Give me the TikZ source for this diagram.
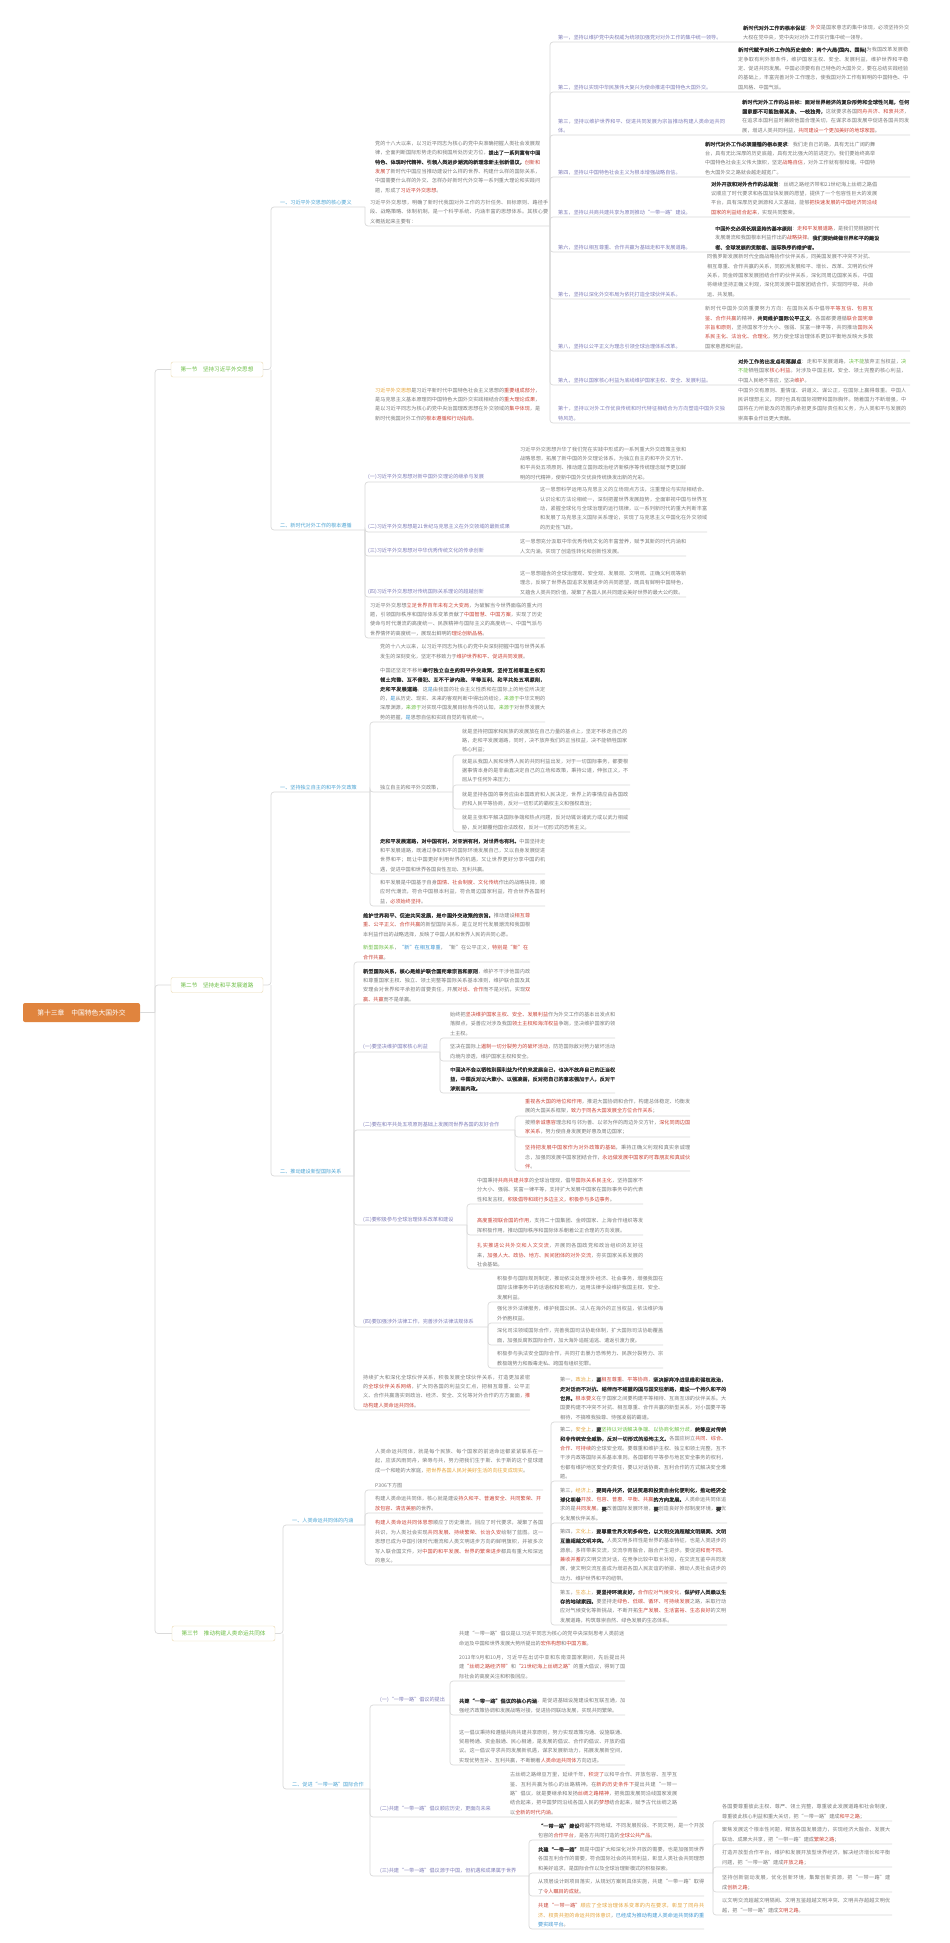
\documentclass[tikz,border=0pt]{standalone}
\usepackage{fontspec}
\setmainfont{Noto Sans CJK SC}[AutoFakeBold=1.5]
\XeTeXlinebreaklocale "zh"
\XeTeXlinebreakskip=0pt plus 1pt
\definecolor{tg}{HTML}{7A7A7A}
\definecolor{pu}{HTML}{7F7DB8}
\definecolor{sb}{HTML}{4BA3D3}
\definecolor{lg}{HTML}{DADADA}
\definecolor{cr}{HTML}{C9463A}
\definecolor{co}{HTML}{E3A33B}
\definecolor{cg}{HTML}{6DBE45}
\definecolor{cb}{HTML}{3E95D1}
\definecolor{rootc}{HTML}{E0843E}
\definecolor{tan}{HTML}{EAD8AE}
\definecolor{dk}{HTML}{3A3A3A}
\newcommand\rd[1]{\textcolor{cr}{#1}}
\newcommand\og[1]{\textcolor{co}{#1}}
\newcommand\gn[1]{\textcolor{cg}{#1}}
\newcommand\bl[1]{\textcolor{cb}{#1}}
\newcommand\bd[1]{\textcolor{dk}{\textbf{#1}}}
\newcommand\fs{\fontsize{5.1}{9.4}\selectfont}
\tikzset{
 tx/.style={anchor=south west,inner sep=0pt,text width=#1pt,align=justify,font=\fs,text=tg},
 lb/.style={anchor=south west,inner sep=0pt,font=\fs,text=pu},
 lbw/.style={anchor=south west,inner sep=0pt,font=\fs,text=pu,text width=#1pt,align=left},
 sub/.style={anchor=south west,inner sep=0pt,font=\fs,text=sb},
 ln/.style={draw=lg,line width=0.7pt,rounded corners=3pt},
 sec/.style={draw=tan,fill=white,rounded corners=2pt,minimum width=92pt,minimum height=15pt,inner sep=1pt,text=cg,font=\fontsize{5.6}{6}\selectfont},
 root/.style={fill=rootc,rounded corners=2pt,minimum width=117pt,minimum height=19pt,text=white,font=\fontsize{6.8}{7}\selectfont}
}
\begin{document}
\begin{tikzpicture}[x=1pt,y=-1pt]
\useasboundingbox[fill=white] (0,0) rectangle (950,1943);
% root and sections
\node[root] (root) at (81.5,1012.5) {第十三章\quad 中国特色大国外交};
\node[sec] (s1) at (217,369.5) {第一节\quad 坚持习近平外交思想};
\node[sec] (s2) at (217,985) {第二节\quad 坚持走和平发展道路};
\node[sec,minimum width=103pt] (s3) at (223.5,1633.5) {第三节\quad 推动构建人类命运共同体};
\coordinate (tr) at (155,1012.5);
\draw[ln] (root.east) -- (tr);
\draw[ln] (tr) |- (s1.west);
\draw[ln] (tr) |- (s2.west);
\draw[ln] (tr) |- (s3.west);

% ================= Section 1
\draw[ln] (s1.east) -- (271,369.5) |- (365,207);
\draw[ln] (271,369.5) |- (365,530);
\node[sub] (a1) at (280,205) {一、习近平外交思想的核心要义};
\node[tx=165] (tA) at (375,193) {党的十八大以来，以习近平同志为核心的党中央准确把握人类社会发展规律，全面判断国际形势走向和我国所处历史方位，\bd{提出了一系列富有中国特色、体现时代精神、引领人类进步潮流的新理念新主张新倡议，}\rd{创新和发展了}新时代中国应当推动建设什么样的世界、构建什么样的国际关系，中国需要什么样的外交、怎样办好新时代外交等一系列重大理论和实践问题，形成了\rd{习近平外交思想}。};
\draw[ln] (365,207) |- (550,226);
\node[tx=178] (tB) at (370,224) {习近平外交思想，明确了新时代我国对外工作的方针任务、目标原则、路径手段、战略策略、体制机制，是一个科学系统、内涵丰富的思想体系。其核心要义概括起来主要有：};
% ten items
\foreach \r in {42,92,135,177,217,252,299,351,385,423}{\draw[ln] (550,226) |- (910,\r);}
\node[lbw=168] (i1) at (558,40) {第一，坚持以维护党中央权威为统领加强党对对外工作的集中统一领导。};
\node[tx=166] (r1) at (743,40) {\bd{新时代对外工作的根本保证}：\rd{外交}是国家意志的集中体现，必须坚持外交大权在党中央，党中央对对外工作实行集中统一领导。};
\node[lbw=168] (i2) at (558,90) {第二，坚持以实现中华民族伟大复兴为使命推进中国特色大国外交。};
\node[tx=170] (r2) at (738,90) {\bd{新时代赋予对外工作的历史使命：两个大局(国内、国际)}为我国改革发展稳定争取有利外部条件，维护国家主权、安全、发展利益，维护世界和平稳定、促进共同发展。中国必须要有自己特色的大国外交，要在总结实践经验的基础上，丰富完善对外工作理念，使我国对外工作有鲜明的中国特色、中国风格、中国气派。};
\node[lbw=168] (i3) at (558,133) {第三，坚持以维护世界和平、促进共同发展为宗旨推动构建人类命运共同体。};
\node[tx=167] (r3) at (742,133) {\bd{新时代对外工作的总目标：面对世界经济的复杂形势和全球性问题，任何国家都不可能独善其身、一枝独秀，}这就要求各国\rd{同舟共济、和衷共济}，在追求本国利益时兼顾他国合理关切，在谋求本国发展中促进各国共同发展，增进人类共同利益，\rd{共同建设一个更加美好的地球家园}。};
\node[lbw=168] (i4) at (558,175) {第四，坚持以中国特色社会主义为根本增强战略自信。};
\node[tx=170] (r4) at (705,175) {\bd{新时代对外工作必须遵循的根本要求}：我们走自己的路，具有无比广阔的舞台，具有无比深厚的历史底蕴，具有无比强大的前进定力。我们要始终高举中国特色社会主义伟大旗帜，坚定\rd{战略自信}，对外工作就有根和魂，中国特色大国外交之路就会越走越宽广。};
\node[lbw=168] (i5) at (558,215) {第五，坚持以共商共建共享为原则推动“一带一路”建设。};
\node[tx=166] (r5) at (711,215) {\bd{对外开放和对外合作的总规划}：丝绸之路经济带和21世纪海上丝绸之路倡议顺应了时代要求和各国加快发展的愿望，提供了一个包容性巨大的发展平台，具有深厚历史渊源和人文基础，能够\rd{把快速发展的中国经济同沿线国家的利益结合起来}，实现共同繁荣。};
\node[lbw=168] (i6) at (558,250) {第六，坚持以相互尊重、合作共赢为基础走和平发展道路。};
\node[tx=164] (r6) at (715,250) {\bd{中国外交必须长期坚持的基本原则}：\rd{走和平发展道路}，是我们党根据时代发展潮流和我国根本利益作出的\rd{战略抉择}。\bd{我们要始终做世界和平的建设者、全球发展的贡献者、国际秩序的维护者。}};
\node[lbw=168] (i7) at (558,297) {第七，坚持以深化外交布局为依托打造全球伙伴关系。};
\node[tx=166] (r7) at (707,297) {同俄罗斯发展新时代全面战略协作伙伴关系，同美国发展不冲突不对抗、相互尊重、合作共赢的关系，同欧洲发展和平、增长、改革、文明的伙伴关系，同金砖国家发展团结合作的伙伴关系，深化同周边国家关系，中国将继续坚持正确义利观，深化同发展中国家团结合作，实现同呼吸、共命运、共发展。};
\node[lbw=168] (i8) at (558,349) {第八，坚持以公平正义为理念引领全球治理体系改革。};
\node[tx=168] (r8) at (705,349) {新时代中国外交的重要努力方向：在国际关系中倡导\rd{平等互信、包容互鉴、合作共赢}的精神，\bd{共同维护国际公平正义}。各国都要遵循\rd{联合国宪章宗旨和原则}，坚持国家不分大小、强弱、贫富一律平等，共同推动\rd{国际关系民主化、法治化、合理化}，努力使全球治理体系更加平衡地反映大多数国家意愿和利益。};
\node[lbw=168] (i9) at (558,383) {第九，坚持以国家核心利益为底线维护国家主权、安全、发展利益。};
\node[tx=168] (r9) at (738,383) {\bd{对外工作的出发点和落脚点}：走和平发展道路，\gn{决不能}放弃正当权益，\gn{决不能}牺牲国家\rd{核心利益}。对涉及中国主权、安全、领土完整的核心利益，中国人民绝不答应，坚决\rd{维护}。};
\node[lbw=168] (i10) at (558,421) {第十，坚持以对外工作优良传统和时代特征相结合为方向塑造中国外交独特风范。};
\node[tx=168] (r10) at (738,421) {中国外交有原则、重情谊、讲道义、谋公正，在国际上赢得尊重。中国人民讲理想主义，同时也具有国际视野和国际胸怀。随着国力不断增强，中国将在力所能及的范围内承担更多国际责任和义务，为人类和平与发展的崇高事业作出更大贡献。};

% S1 sub2
\node[sub] (a2) at (280,528) {二、新时代对外工作的根本遵循};
\node[tx=165] (tC) at (375,421) {\og{习近平外交思想}是习近平新时代中国特色社会主义思想的\rd{重要组成部分}，是马克思主义基本原理同中国特色大国外交实践相结合的\rd{重大理论成果}，是以习近平同志为核心的党中央治国理政思想在外交领域的\rd{集中体现}，是新时代我国对外工作的\rd{根本遵循和行动指南}。};
\draw[ln] (365,530) |- (686,482);
\draw[ln] (365,530) |- (707,532);
\draw[ln] (365,530) |- (686,556);
\draw[ln] (365,530) |- (686,597);
\draw[ln] (365,530) |- (545,638);
\node[lb] (b1) at (368,480) {(一)习近平外交思想对新中国外交理论的继承与发展};
\node[tx=166] (b1t) at (520,480) {习近平外交思想升华了我们党在实践中形成的一系列重大外交政策主张和战略思想，拓展了新中国的外交理论体系，为独立自主的和平外交方针、和平共处五项原则、推动建立国际政治经济新秩序等传统理念赋予更加鲜明的时代精神，使新中国外交优良传统焕发出新的光彩。};
\node[lb] (b2) at (368,530) {(二)习近平外交思想是21世纪马克思主义在外交领域的最新成果};
\node[tx=167] (b2t) at (540,530) {这一思想科学运用马克思主义的立场观点方法，注重理论与实际相结合、认识论和方法论相统一，深刻把握世界发展趋势，全面审视中国与世界互动，紧握全球化与全球治理的运行规律，以一系列新时代的重大判断丰富和发展了马克思主义国际关系理论，实现了马克思主义中国化在外交领域的历史性飞跃。};
\node[lb] (b3) at (368,554) {(三)习近平外交思想对中华优秀传统文化的传承创新};
\node[tx=166] (b3t) at (520,554) {这一思想充分汲取中华优秀传统文化的丰富营养，赋予其新的时代内涵和人文内涵，实现了创造性转化和创新性发展。};
\node[lb] (b4) at (368,595) {(四)习近平外交思想对传统国际关系理论的超越创新};
\node[tx=166] (b4t) at (520,595) {这一思想蕴含的全球治理观、安全观、发展观、文明观、正确义利观等新理念，反映了世界各国追求发展进步的共同愿望，既具有鲜明中国特色，又蕴含人类共同价值，凝聚了各国人民共同建设美好世界的最大公约数。};
\node[tx=172] (tD) at (370,636) {习近平外交思想\rd{立足世界百年未有之大变局}，为破解当今世界面临的重大问题，引领国际秩序和国际体系变革贡献了\rd{中国智慧、中国方案}，实现了历史使命与时代潮流的高度统一、民族精神与国际主义的高度统一、中国气派与世界情怀的高度统一，展现出鲜明的\rd{理论创新品格}。};

% ================= Section 2
\draw[ln] (s2.east) -- (271,985) |- (370,792);
\draw[ln] (271,985) |- (354,1176);
\node[sub] (c1) at (280,790) {一、坚持独立自主的和平外交政策};
\node[tx=165] (tE) at (380,659) {党的十八大以来，以习近平同志为核心的党中央深刻把握中国与世界关系发生的深刻变化，坚定不移致力于\rd{维护世界和平、促进共同发展}。};
\draw[ln] (370,792) |- (545,722);
\draw[ln] (370,792) |- (453,792);
\draw[ln] (370,792) |- (545,874);
\draw[ln] (370,792) |- (545,906);
\node[tx=165] (tF) at (380,720) {中国还坚定不移地\bd{奉行独立自主的和平外交政策，坚持互相尊重主权和领土完整、互不侵犯、互不干涉内政、平等互利、和平共处五项原则，走和平发展道路}。这\bl{是}由我国的社会主义性质和在国际上的地位所决定的，\bl{是}从历史、现实、未来的客观判断中得出的结论，\gn{来源于}中华文明的深厚渊源，\gn{来源于}对实现中国发展目标条件的认知，\gn{来源于}对世界发展大势的把握，\bl{是}思想自信和实践自觉的有机统一。};
\node[lb,text=tg] (dp) at (380,790) {独立自主的和平外交政策，};
\foreach \r/\e in {755/628,785/630,809/630,832/630}{\draw[ln] (453,792) |- (\e,\r);}
\node[tx=165] (d1) at (462,753) {就是坚持把国家和民族的发展放在自己力量的基点上，坚定不移走自己的路，走和平发展道路，同时，决不放弃我们的正当权益，决不能牺牲国家核心利益；};
\node[tx=166] (d2) at (462,783) {就是从我国人民和世界人民的共同利益出发，对于一切国际事务，都要根据事情本身的是非曲直决定自己的立场和政策，秉持公道，伸张正义，不屈从于任何外来压力；};
\node[tx=166] (d3) at (462,807) {就是坚持各国的事务应由本国政府和人民决定，世界上的事情应由各国政府和人民平等协商，反对一切形式的霸权主义和强权政治；};
\node[tx=166] (d4) at (462,830) {就是主张和平解决国际争端和热点问题，反对动辄诉诸武力或以武力相威胁，反对颠覆他国合法政权，反对一切形式的恐怖主义。};
\node[tx=165] (tG) at (380,872) {\bd{走和平发展道路，对中国有利，对亚洲有利，对世界也有利。}中国坚持走和平发展道路，既通过争取和平的国际环境发展自己，又以自身发展促进世界和平；既让中国更好利用世界的机遇，又让世界更好分享中国的机遇，促进中国和世界各国良性互动、互利共赢。};
\node[tx=165] (tH) at (380,904) {和平发展是中国基于自身\rd{国情、社会制度、文化传统}作出的战略抉择，顺应时代潮流，符合中国根本利益，符合周边国家利益，符合世界各国利益，\rd{必须始终坚持}。};

\node[sub] (c2) at (280,1174) {二、推动建设新型国际关系};
\node[tx=167] (tI) at (363,937) {\bd{维护世界和平、促进共同发展，是中国外交政策的宗旨。}推动建设\rd{相互尊重、公平正义、合作共赢}的新型国际关系，是立足时代发展潮流和我国根本利益作出的战略选择，反映了中国人民和世界人民的共同心愿。};
\foreach \r/\e in {962/530,1004/530,1052/440,1130/515,1225/467,1327/488,1410/530}{\draw[ln] (354,1176) |- (\e,\r);}
\node[tx=165] (tJ) at (363,960) {\gn{新型国际关系}，\bl{“新”在相互尊重}，“新”在公平正义，\rd{特别是“新”在合作共赢}。};
\node[tx=167] (tK) at (363,1002) {\bd{新型国际关系，核心是维护联合国宪章宗旨和原则}，维护不干涉他国内政和尊重国家主权、独立、领土完整等国际关系基本准则，维护联合国及其安理会对世界和平承担的首要责任，开展\rd{对话、合作}而不是对抗，实现\rd{双赢、共赢}而不是单赢。};
\node[lb] (e1) at (363,1050) {(一)要坚决维护国家核心利益};
\foreach \r in {1038,1061,1093}{\draw[ln] (440,1052) |- (615,\r);}
\node[tx=165] (e1a) at (450,1036) {始终把\rd{坚决维护国家主权、安全、发展利益}作为外交工作的基本出发点和落脚点，妥善应对涉及我国\rd{领土主权和海洋权益}争端，坚决维护国家的领土主权。};
\node[tx=165] (e1b) at (450,1059) {坚决在国际上\rd{遏制一切分裂势力的破坏活动}，防范国际敌对势力破坏活动向境内渗透，维护国家主权和安全。};
\node[tx=165] (e1c) at (450,1091) {\bd{中国决不会以牺牲别国利益为代价来发展自己，也决不放弃自己的正当权益，中国反对以大欺小、以强凌弱，反对把自己的意志强加于人，反对干涉别国内政。}};
\node[lb] (e2) at (363,1128) {(二)要在和平共处五项原则基础上发展同世界各国的友好合作};
\foreach \r in {1116,1137,1171}{\draw[ln] (515,1130) |- (690,\r);}
\node[tx=165] (e2a) at (525,1114) {\rd{重视各大国的地位和作用}，推进大国协调和合作，构建总体稳定、均衡发展的大国关系框架，\rd{致力于同各大国发展全方位合作关系}；};
\node[tx=165] (e2b) at (525,1135) {按照\rd{亲诚惠容}理念和与邻为善、以邻为伴的周边外交方针，\rd{深化同周边国家关系}，努力使自身发展更好惠及周边国家；};
\node[tx=165] (e2c) at (525,1169) {\rd{坚持把发展中国家作为对外政策的基础}，秉持正确义利观和真实亲诚理念，加强同发展中国家团结合作，\rd{永远做发展中国家的可靠朋友和真诚伙伴}。};
\node[lb] (e3) at (363,1223) {(三)要积极参与全球治理体系改革和建设};
\foreach \r in {1204,1235,1269}{\draw[ln] (467,1225) |- (643,\r);}
\node[tx=166] (e3a) at (477,1202) {中国秉持\rd{共商共建共享}的全球治理观，倡导\rd{国际关系民主化}，坚持国家不分大小、强弱、贫富一律平等，支持扩大发展中国家在国际事务中的代表性和发言权，\rd{积极倡导和践行多边主义，积极参与多边事务}。};
\node[tx=166] (e3b) at (477,1233) {\rd{高度重视联合国的作用}，支持二十国集团、金砖国家、上海合作组织等发挥积极作用，推动国际秩序和国际体系朝着公正合理的方向发展。};
\node[tx=166] (e3c) at (477,1267) {\rd{扎实推进公共外交和人文交流}，开展同各国政党和政治组织的友好往来，\rd{加强人大、政协、地方、民间团体的对外交流}，夯实国家关系发展的社会基础。};
\node[lb] (e4) at (363,1325) {(四)要加强涉外法律工作，完善涉外法律法规体系};
\foreach \r in {1302,1323,1345,1368}{\draw[ln] (488,1327) |- (663,\r);}
\node[tx=166] (e4a) at (497,1300) {积极参与国际规则制定，推动依法处理涉外经济、社会事务，增强我国在国际法律事务中的话语权和影响力，运用法律手段维护我国主权、安全、发展利益。};
\node[tx=166] (e4b) at (497,1321) {强化涉外法律服务，维护我国公民、法人在海外的正当权益，依法维护海外侨胞权益。};
\node[tx=166] (e4c) at (497,1343) {深化司法领域国际合作，完善我国司法协助体制，扩大国际司法协助覆盖面，加强反腐败国际合作，加大海外追赃追逃、遣返引渡力度。};
\node[tx=166] (e4d) at (497,1366) {积极参与执法安全国际合作，共同打击暴力恐怖势力、民族分裂势力、宗教极端势力和贩毒走私、跨国有组织犯罪。};
\node[tx=167] (tL) at (363,1408) {持续扩大和深化全球伙伴关系，积极发展全球伙伴关系，打造更加紧密的\rd{全球伙伴关系网络}，扩大同各国的利益交汇点，把相互尊重、公平正义、合作共赢落实到政治、经济、安全、文化等对外合作的方方面面，\rd{推动构建人类命运共同体}。};

% ================= Section 3
\draw[ln] (s3.east) -- (283,1633.5) |- (365,1525);
\draw[ln] (283,1633.5) |- (370,1789);
\node[sub] (f1) at (292,1523) {一、人类命运共同体的内涵};
\node[tx=168] (tM) at (375,1473) {人类命运共同体，就是每个民族、每个国家的前途命运都紧紧联系在一起，应该风雨同舟，荣辱与共，努力把我们生于斯、长于斯的这个星球建成一个和睦的大家庭，\og{把世界各国人民对美好生活的向往变成现实}。};
\draw[ln] (365,1525) |- (543,1490);
\draw[ln] (365,1525) |- (543,1513);
\draw[ln] (365,1525) |- (551,1565);
\node[tx=160] (tP3) at (375,1488) {P306下方图};
\node[tx=166] (tN) at (375,1511) {构建人类命运共同体，核心就是建设\rd{持久和平、普遍安全、共同繁荣、开放包容、清洁美丽}的世界。};
\node[tx=168] (tO) at (375,1563) {\rd{构建人类命运共同体思想}顺应了历史潮流，回应了时代要求，凝聚了各国共识，为人类社会实现\rd{共同发展、持续繁荣、长治久安}绘制了蓝图。这一思想已成为中国引领时代潮流和人类文明进步方向的鲜明旗帜，并被多次写入联合国文件，对\rd{中国的和平发展、世界的繁荣进步}都具有重大和深远的意义。};
\foreach \r in {1422,1481,1523,1583,1625}{\draw[ln] (551,1565) |- (727,\r);}
\node[tx=166] (g1) at (560,1420) {第一，\og{政治上}，\bd{要}\rd{相互尊重}、\rd{平等协商}，\bd{坚决摒弃冷战思维和强权政治，走对话而不对抗、结伴而不结盟的国与国交往新路，建设一个持久和平的世界。}\rd{根本要义}在于国家之间要构建平等相待、互商互谅的伙伴关系。大国要构建不冲突不对抗、相互尊重、合作共赢的新型关系，对小国要平等相待，不搞唯我独尊、恃强凌弱的霸道。};
\node[tx=166] (g2) at (560,1479) {第二，\og{安全上}，\bd{要}\gn{坚持以对话解决争端、以协商化解分歧}，\bd{统筹应对传统和非传统安全威胁，反对一切形式的恐怖主义。}各国应树立\rd{共同、综合、合作、可持续}的全球安全观。要尊重和维护主权、独立和领土完整，互不干涉内政等国际关系基本准则。各国都有平等参与地区安全事务的权利，也都有维护地区安全的责任，要以对话协商、互利合作的方式解决安全难题。};
\node[tx=166] (g3) at (560,1521) {第三，\og{经济上}，\bd{要同舟共济，促进贸易和投资自由化便利化，推动经济全球化朝着}\rd{开放、包容、普惠、平衡、共赢}\bd{的方向发展。}人类命运共同体追求的是\rd{共同发展}。\bd{要}改善国际发展环境，\bd{要}创造良好外部制度环境，\bd{要}优化发展伙伴关系。};
\node[tx=166] (g4) at (560,1581) {第四，\og{文化上}，\bd{要尊重世界文明多样性，以文明交流超越文明隔阂、文明互鉴超越文明冲突。}人类文明多样性是世界的基本特征，也是人类进步的源泉。多样带来交流，交流孕育融合，融合产生进步。要促进\rd{和而不同、兼收并蓄}的文明交流对话，在竞争比较中取长补短，在交流互鉴中共同发展，使文明交流互鉴成为增进各国人民友谊的桥梁、推动人类社会进步的动力、维护世界和平的纽带。};
\node[tx=166] (g5) at (560,1623) {第五，\og{生态上}，\bd{要坚持环境友好，}\rd{合作应对气候变化}，\bd{保护好人类赖以生存的地球家园。}要坚持走\rd{绿色、低碳、循环、可持续发展}之路，采取行动应对气候变化等新挑战，不断开拓\rd{生产发展、生活富裕、生态良好}的文明发展道路，构筑尊崇自然、绿色发展的生态体系。};

\node[sub] (f2) at (292,1787) {二、促进“一带一路”国际合作};
\node[tx=165] (tQ) at (459,1646) {共建“一带一路”倡议是以习近平同志为核心的党中央深刻思考人类前途命运及中国和世界发展大势所提出的\rd{宏伟构想}和\rd{中国方案}。};
\draw[ln] (370,1789) |- (450,1705);
\draw[ln] (370,1789) |- (677,1817);
\draw[ln] (370,1789) |- (529,1876);
\node[lb] (h1) at (380,1703) {(一)“一带一路”倡议的提出};
\foreach \r in {1681,1715,1765}{\draw[ln] (450,1705) |- (625,\r);}
\node[tx=166] (h1a) at (459,1679) {2013年9月和10月，习近平在出访中亚和东南亚国家期间，先后提出共建\rd{“丝绸之路经济带”}和\rd{“21世纪海上丝绸之路”}的重大倡议，得到了国际社会的高度关注和积极回应。};
\node[tx=166] (h1b) at (459,1713) {\bd{共建“一带一路”倡议的核心内涵}，是促进基础设施建设和互联互通，加强经济政策协调和发展战略对接，促进协同联动发展，实现共同繁荣。};
\node[tx=166] (h1c) at (459,1763) {这一倡议秉持和遵循共商共建共享原则，努力实现政策沟通、设施联通、贸易畅通、资金融通、民心相通，是发展的倡议、合作的倡议、开放的倡议。这一倡议寻求共同发展新机遇，谋求发展新动力，拓展发展新空间，实现优势互补、互利共赢，不断朝着\rd{人类命运共同体}方向迈进。};
\node[lb] (h2) at (380,1812) {(二)共建“一带一路”倡议顺应历史，更面向未来};
\node[tx=167] (h2t) at (510,1815) {古丝绸之路绵亘万里，延续千年，\rd{积淀了}以和平合作、开放包容、互学互鉴、互利共赢为核心的丝路精神。在\rd{新的历史条件下}提出共建“一带一路”倡议，就是要继承和发扬\rd{丝绸之路精神}，把我国发展同沿线国家发展结合起来，把中国梦同沿线各国人民的\rd{梦想}结合起来，赋予古代丝绸之路以\rd{全新的时代内涵}。};
\node[lb] (h3) at (380,1874) {(三)共建“一带一路”倡议源于中国，但机遇和成果属于世界};
\draw[ln] (529,1876) |- (704,1840);
\draw[ln] (529,1876) |- (713,1873);
\draw[ln] (529,1876) |- (704,1896);
\draw[ln] (529,1876) |- (704,1929);
\node[tx=166] (h3a) at (538,1838) {\bd{“一带一路”建设}跨越不同地域、不同发展阶段、不同文明，是一个开放包容的\rd{合作平台}，是各方共同打造的\rd{全球公共产品}。};
\node[tx=166] (h3b) at (538,1871) {\bd{共建“一带一路”}既是中国扩大和深化对外开放的需要，也是加强同世界各国互利合作的需要，符合国际社会的共同利益，彰显人类社会共同理想和美好追求，是国际合作以及全球治理新模式的积极探索。};
\node[tx=166] (h3c) at (538,1894) {从顶层设计到项目落实，从规划方案到具体实施，共建“一带一路”取得了\rd{令人瞩目的成就}。};
\node[tx=166] (h3d) at (538,1927) {\rd{共建“一带一路”}\og{顺应了全球治理体系变革的内在要求，彰显了同舟共济、权责共担的命运共同体意识}，\bl{已经成为推动构建人类命运共同体的重要实践平台}。};
\foreach \r in {1821,1844,1867,1892,1915}{\draw[ln] (713,1873) |- (892,\r);}
\node[tx=168] (k1) at (722,1819) {各国要尊重彼此主权、尊严、领土完整，尊重彼此发展道路和社会制度，尊重彼此核心利益和重大关切，把“一带一路”建成\rd{和平之路}；};
\node[tx=168] (k2) at (722,1842) {聚焦发展这个根本性问题，释放各国发展潜力，实现经济大融合、发展大联动、成果大共享，把“一带一路”建成\rd{繁荣之路}；};
\node[tx=168] (k3) at (722,1865) {打造开放型合作平台，维护和发展开放型世界经济，解决经济增长和平衡问题，把“一带一路”建成\rd{开放之路}；};
\node[tx=168] (k4) at (722,1890) {坚持创新驱动发展，优化创新环境，集聚创新资源，把“一带一路”建成\rd{创新之路}；};
\node[tx=168] (k5) at (722,1913) {以文明交流超越文明隔阂、文明互鉴超越文明冲突、文明共存超越文明优越，把“一带一路”建成\rd{文明之路}。};
\end{tikzpicture}
\end{document}
